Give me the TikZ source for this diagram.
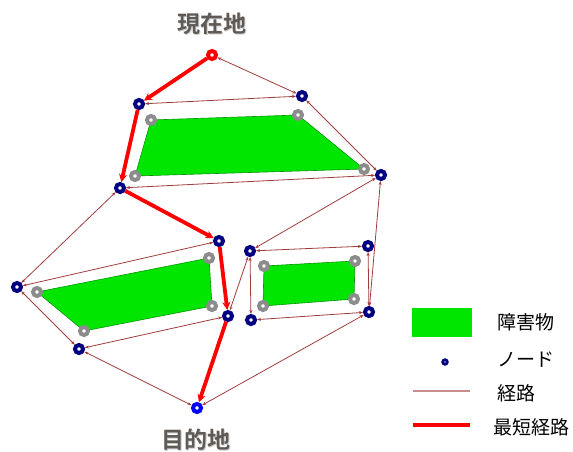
\documentclass[tikz,border=0pt]{standalone}
\usepackage{fontspec}
\newfontfamily\jp{Noto Sans CJK JP}[BoldFont={Noto Sans CJK JP Bold}]
\usetikzlibrary{arrows.meta,backgrounds}
\definecolor{obst}{RGB}{0,230,0}
\definecolor{obstline}{RGB}{0,150,0}
\definecolor{navyc}{RGB}{0,0,128}
\definecolor{edgec}{RGB}{160,60,60}
\definecolor{legedge}{RGB}{200,140,140}
\definecolor{titlec}{RGB}{95,90,85}
\definecolor{grayv}{RGB}{140,140,140}
\tikzset{
  nd/.style={circle,draw=navyc,fill=white,line width=4pt,inner sep=0pt,minimum size=8pt},
  gv/.style={circle,draw=grayv,fill=white,line width=4pt,inner sep=0pt,minimum size=8pt},
  startnd/.style={nd,draw=red},
  goalnd/.style={nd,draw=blue},
  edge/.style={draw=edgec,line width=0.8pt,{Stealth[length=4pt,width=3pt]}-{Stealth[length=4pt,width=3pt]}},
  best/.style={draw=red,line width=3.8pt,-{Stealth[length=8pt,width=8pt]}},
  obstacle/.style={fill=obst,draw=obstline,line width=0.6pt},
  title/.style={font=\jp\bfseries\fontsize{23}{26}\selectfont,text=titlec},
  leg/.style={font=\jp\fontsize{19}{22}\selectfont,anchor=west,inner sep=0pt}
}
\begin{document}
\begin{tikzpicture}[x=1pt,y=-1pt]
\useasboundingbox (0,0) rectangle (573,452);
% obstacle vertices
\node[gv] (o1a) at (151,120) {};
\node[gv] (o1b) at (298,115) {};
\node[gv] (o1c) at (364,169) {};
\node[gv] (o1d) at (135,176) {};
\node[gv] (o2a) at (37,292) {};
\node[gv] (o2b) at (209,258) {};
\node[gv] (o2c) at (212,306) {};
\node[gv] (o2d) at (84,331) {};
\node[gv] (o3a) at (264,266) {};
\node[gv] (o3b) at (355,261) {};
\node[gv] (o3c) at (354,299) {};
\node[gv] (o3d) at (263,306) {};
\begin{scope}[on background layer]
\path[obstacle] (o1a.center) -- (o1b.center) -- (o1c.center) -- (o1d.center) -- cycle;
\path[obstacle] (o2a.center) -- (o2b.center) -- (o2c.center) -- (o2d.center) -- cycle;
\path[obstacle] (o3a.center) -- (o3b.center) -- (o3c.center) -- (o3d.center) -- cycle;
\end{scope}
% route nodes
\node[startnd] (s) at (212,55) {};
\node[nd] (a) at (139,104) {};
\node[nd] (b) at (302,96) {};
\node[nd] (c) at (120,188) {};
\node[nd] (d) at (381,175) {};
\node[nd] (e) at (219,241) {};
\node[nd] (f) at (250,251) {};
\node[nd] (g) at (368,246) {};
\node[nd] (h) at (369,312) {};
\node[nd] (i) at (251,320) {};
\node[nd] (j) at (228,316) {};
\node[nd] (k) at (17,287) {};
\node[nd] (l) at (79,349) {};
\node[goalnd] (t) at (197,408) {};
% edges
\foreach \u/\v in {s/b,b/a,c/d,b/d,c/k,k/e,k/l,l/j,l/t,t/h,j/f,f/d,f/g,f/i,g/h,d/h,i/h}
  \path[edge] (\u) -- (\v);
% shortest path
\path[best] (s) -- (a);
\path[best] (a) -- (c);
\path[best] (c) -- (e);
\path[best] (e) -- (j);
\path[best] (j) -- (t);
% titles
\node[title,text=black!20] at (213,25) {現在地};
\node[title] (tstart) at (212,24) {現在地};
\node[title,text=black!20] at (197,441) {目的地};
\node[title] (tgoal) at (196,440) {目的地};
% legend
\node[fill=obst,minimum width=60pt,minimum height=29pt,inner sep=0pt] (lobst) at (442,322) {};
\node[leg] (lobstt) at (497,322) {障害物};
\node[circle,draw=navyc,fill=white,line width=2.8pt,inner sep=0pt,minimum size=4.5pt] (lnode) at (445,362) {};
\node[leg] (lnodet) at (497,360) {ノード};
\coordinate (le1) at (413,391);
\coordinate (le2) at (470,391);
\draw[legedge,line width=1.4pt] (le1) -- (le2);
\node[leg] (ledget) at (497,393) {経路};
\coordinate (lb1) at (413,425);
\coordinate (lb2) at (470,425);
\draw[red,line width=3.8pt] (lb1) -- (lb2);
\node[leg] (lbestt) at (493,427) {最短経路};
\end{tikzpicture}
\end{document}
